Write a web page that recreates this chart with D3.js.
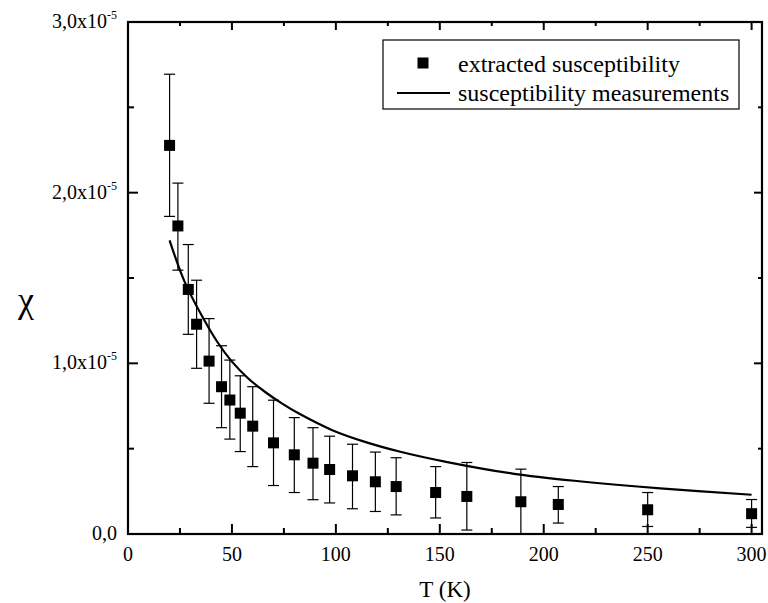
<!DOCTYPE html>
<html>
<head>
<meta charset="utf-8">
<script src="https://cdn.jsdelivr.net/npm/d3@7"></script>
</head>
<body style="margin:0">
<svg width="768" height="603"></svg>
<script>
// extracted susceptibility (values in units of 1e-5)
var temps = [20, 24, 29, 33, 39, 45, 49, 54, 60, 70, 80, 89, 97, 108, 119, 129, 148, 163, 189, 207, 250, 300];
var chiVals = [2.277, 1.805, 1.433, 1.229, 1.013, 0.863, 0.785, 0.708, 0.632, 0.534, 0.464, 0.415, 0.378, 0.341, 0.306, 0.278, 0.243, 0.220, 0.189, 0.173, 0.142, 0.119];
var chiHigh = [2.694, 2.056, 1.696, 1.487, 1.262, 1.103, 1.019, 0.927, 0.863, 0.784, 0.682, 0.623, 0.573, 0.526, 0.480, 0.447, 0.395, 0.419, 0.380, 0.278, 0.243, 0.202];
var chiLow = [1.861, 1.546, 1.170, 0.971, 0.766, 0.623, 0.556, 0.483, 0.395, 0.284, 0.243, 0.201, 0.182, 0.148, 0.132, 0.112, 0.094, 0.023, 0.0, 0.064, 0.044, 0.039];

// susceptibility measurements (curve)
var measT = [20, 27, 35, 43, 50, 58, 66, 74, 82, 98, 114, 131, 153, 185, 217, 256, 300];
var measChi = [1.72, 1.485, 1.29, 1.125, 1.01, 0.91, 0.832, 0.765, 0.707, 0.61, 0.54, 0.482, 0.423, 0.354, 0.309, 0.267, 0.230];

var xTicks = [0, 50, 100, 150, 200, 250, 300];
var xMinor = [25, 75, 125, 175, 225, 275];
var yTicks = [0, 1, 2, 3];
var yTickLabels = ["0,0", "1,0x10", "2,0x10", "3,0x10"];
var yMinor = [0.5, 1.5, 2.5];

var legendLabels = ["extracted susceptibility", "susceptibility measurements"];

var FONT = "'Liberation Serif'";

var svg = d3.select("svg");

var left = 128, right = 762, plotTop = 22, bottom = 534;

var x = d3.scaleLinear().domain([0, 305]).range([left, right]);
var y = d3.scaleLinear().domain([0, 3]).range([bottom, plotTop]);

var points = temps.map(function (t, i) {
    return { t: t, v: chiVals[i], hi: chiHigh[i], lo: chiLow[i] };
});

// measurement curve
var line = d3.line()
    .x(function (d) { return x(d[0]); })
    .y(function (d) { return y(d[1]); })
    .curve(d3.curveCatmullRom);

svg.append("path")
    .datum(d3.zip(measT, measChi))
    .attr("d", line)
    .style("fill", "none")
    .style("stroke", "#000")
    .style("stroke-width", 2.2);

// error bars
var eb = svg.append("g").attr("class", "errorbars");
eb.selectAll("line.bar")
    .data(points)
    .enter()
    .append("line")
    .attr("x1", function (d) { return x(d.t); })
    .attr("x2", function (d) { return x(d.t); })
    .attr("y1", function (d) { return y(d.hi); })
    .attr("y2", function (d) { return y(d.lo); })
    .style("stroke", "#000")
    .style("stroke-width", 1.2);

["hi", "lo"].forEach(function (k) {
    eb.selectAll("line.cap-" + k)
        .data(points)
        .enter()
        .append("line")
        .attr("x1", function (d) { return x(d.t) - 5.5; })
        .attr("x2", function (d) { return x(d.t) + 5.5; })
        .attr("y1", function (d) { return y(d[k]); })
        .attr("y2", function (d) { return y(d[k]); })
        .style("stroke", "#000")
        .style("stroke-width", 1.2);
});

// markers
var ms = 11;
svg.selectAll("rect.pt")
    .data(points)
    .enter()
    .append("rect")
    .attr("x", function (d) { return x(d.t) - ms / 2; })
    .attr("y", function (d) { return y(d.v) - ms / 2; })
    .attr("width", ms)
    .attr("height", ms)
    .style("fill", "#000");

// axes (ticks inward on all four sides)
function tickLines(g, vals, scale, len, orient) {
    g.selectAll(null)
        .data(vals)
        .enter()
        .append("line")
        .each(function (v) {
            var s = d3.select(this);
            if (orient == "bottom") s.attr("x1", scale(v)).attr("x2", scale(v)).attr("y1", bottom).attr("y2", bottom - len);
            if (orient == "top") s.attr("x1", scale(v)).attr("x2", scale(v)).attr("y1", plotTop).attr("y2", plotTop + len);
            if (orient == "left") s.attr("y1", scale(v)).attr("y2", scale(v)).attr("x1", left).attr("x2", left + len);
            if (orient == "right") s.attr("y1", scale(v)).attr("y2", scale(v)).attr("x1", right).attr("x2", right - len);
        })
        .style("stroke", "#000")
        .style("stroke-width", 2);
}

var ax = svg.append("g").attr("class", "axes");
tickLines(ax, xTicks, x, 10, "bottom");
tickLines(ax, xMinor, x, 6, "bottom");
tickLines(ax, xTicks, x, 8, "top");
tickLines(ax, xMinor, x, 4, "top");
tickLines(ax, yTicks, y, 10, "left");
tickLines(ax, yMinor, y, 6, "left");
tickLines(ax, yTicks, y, 8, "right");
tickLines(ax, yMinor, y, 4, "right");

ax.append("rect")
    .attr("x", left)
    .attr("y", plotTop)
    .attr("width", right - left)
    .attr("height", bottom - plotTop)
    .style("fill", "none")
    .style("stroke", "#000")
    .style("stroke-width", 2.2);

// x tick labels
svg.selectAll("text.xt")
    .data(xTicks)
    .enter()
    .append("text")
    .attr("x", function (d) { return x(d); })
    .attr("y", 561)
    .attr("text-anchor", "middle")
    .style("font-family", FONT)
    .style("font-size", "20px")
    .text(function (d) { return d; });

// y tick labels with superscript exponent
yTicks.forEach(function (v, i) {
    var t = svg.append("text")
        .attr("x", 117)
        .attr("y", y(v) + 6)
        .attr("text-anchor", "end")
        .style("font-family", FONT)
        .style("font-size", "20px");
    t.append("tspan").text(yTickLabels[i]);
    if (v != 0) {
        t.append("tspan")
            .attr("dy", -9)
            .style("font-size", "12px")
            .text("-5");
    }
});

// axis titles
svg.append("text")
    .attr("x", 445)
    .attr("y", 597)
    .attr("text-anchor", "middle")
    .style("font-family", FONT)
    .style("font-size", "23px")
    .text("T (K)");

svg.append("text")
    .attr("x", 26)
    .attr("y", 312)
    .attr("text-anchor", "middle")
    .style("font-family", FONT)
    .style("font-size", "36px")
    .text("χ");

// legend
var lg = svg.append("g").attr("class", "legend");
lg.append("rect")
    .attr("x", 383)
    .attr("y", 40)
    .attr("width", 356)
    .attr("height", 69)
    .style("fill", "#fff")
    .style("stroke", "#000")
    .style("stroke-width", 1.2);
lg.append("rect")
    .attr("x", 423 - ms / 2)
    .attr("y", 63 - ms / 2)
    .attr("width", ms)
    .attr("height", ms)
    .style("fill", "#000");
lg.append("line")
    .attr("x1", 397)
    .attr("x2", 450)
    .attr("y1", 93)
    .attr("y2", 93)
    .style("stroke", "#000")
    .style("stroke-width", 2.2);
lg.selectAll("text")
    .data(legendLabels)
    .enter()
    .append("text")
    .attr("x", 458)
    .attr("y", function (d, i) { return 72 + i * 29; })
    .style("font-family", FONT)
    .style("font-size", "24px")
    .text(function (d) { return d; });
</script>
</body>
</html>
